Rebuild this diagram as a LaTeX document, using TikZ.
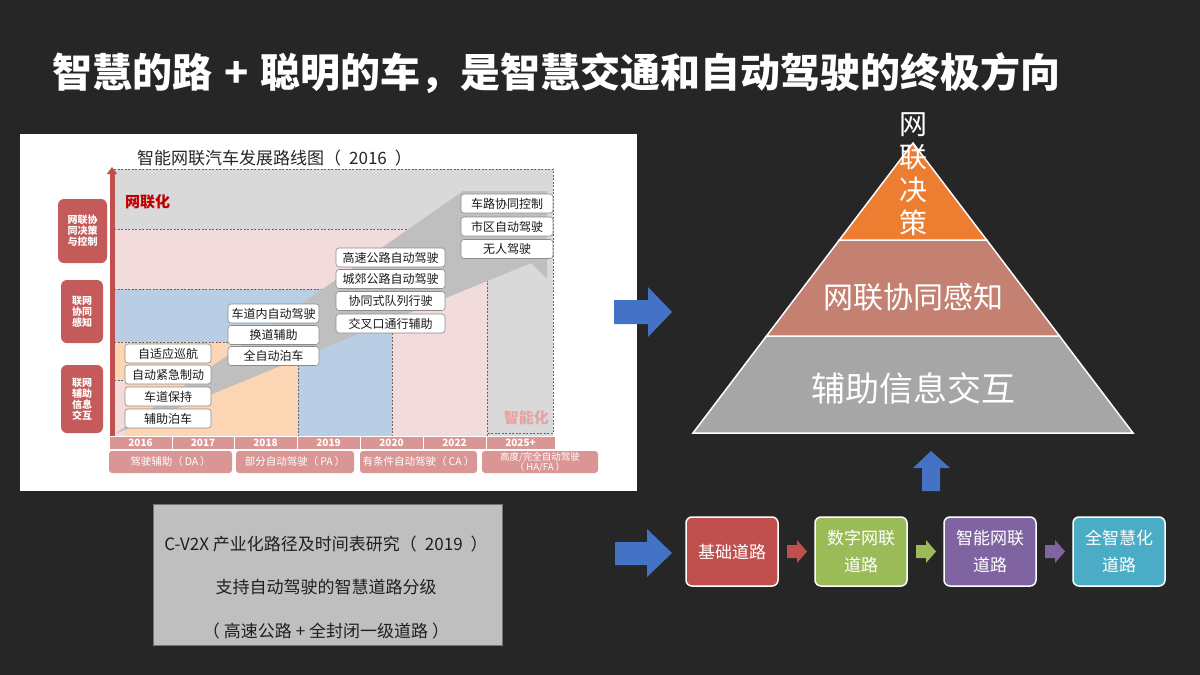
\documentclass[tikz,border=0pt]{standalone}
\usepackage{fontspec}
\setmainfont{Noto Sans CJK SC}
\usetikzlibrary{arrows.meta}
\newcommand\myfs[2]{\fontsize{#1pt}{#2pt}\selectfont}
\definecolor{bg}{HTML}{262626}
\definecolor{rgray}{HTML}{D9D9D9}
\definecolor{rpink}{HTML}{F2DCDB}
\definecolor{rblue}{HTML}{B9CDE5}
\definecolor{rpeach}{HTML}{FCD5B5}
\definecolor{arrgray}{HTML}{BFBFBF}
\definecolor{axred}{HTML}{C0504D}
\definecolor{lblred}{HTML}{C55A5A}
\definecolor{yr}{HTML}{DA9694}
\definecolor{wlred}{HTML}{C00000}
\definecolor{zpink}{HTML}{E6A3A3}
\definecolor{blueA}{HTML}{4472C4}
\definecolor{pyrO}{HTML}{ED7D31}
\definecolor{pyrM}{HTML}{C48070}
\definecolor{pyrG}{HTML}{A6A6A6}
\definecolor{bRed}{HTML}{C0504D}
\definecolor{bGreen}{HTML}{9BBB59}
\definecolor{bPurple}{HTML}{8064A2}
\definecolor{bCyan}{HTML}{4BACC6}
\definecolor{gbox}{HTML}{BFBFBF}
\begin{document}
\begin{tikzpicture}[x=1pt,y=-1pt,
  tbox/.style={draw=black!45, line width=0.6pt, fill=white, rounded corners=3pt, font=\myfs{12}{14}, text=black!90, inner sep=0pt, minimum height=19pt},
  lbl/.style={fill=lblred, rounded corners=6pt, text=white, font=\myfs{10}{11}\bfseries, align=center, inner sep=0pt},
  yearcell/.style={fill=yr, draw=white, line width=0.8pt, minimum height=13pt, inner sep=0pt, text=white, font=\myfs{10}{12}\bfseries},
  stagecell/.style={fill=yr, rounded corners=3pt, minimum height=22pt, inner sep=0pt, text=white, font=\myfs{10.5}{10.5}, align=center},
  dline/.style={draw=black!60, line width=0.6pt, dash pattern=on 2pt off 1.5pt},
  rbox/.style={draw=white, line width=1.5pt, rounded corners=6pt, minimum width=92pt, minimum height=69pt, inner sep=0pt, text=white, font=\myfs{17}{27}, align=center},
  pyr/.style={draw=white, line width=1.5pt}
]
\useasboundingbox (0,0) rectangle (1200,675);
\fill[bg] (0,0) rectangle (1200,675);

% title
\node[anchor=west, inner sep=0pt, text=white, font=\myfs{40}{48}\bfseries] (title) at (52,73) {智慧的路\hspace{12pt}+\hspace{12pt}聪明的车，是智慧交通和自动驾驶的终极方向};

% chart panel
\fill[white] (20,134) rectangle (637,491);
\node[anchor=west, inner sep=0pt, font=\myfs{17}{20}, text=black!85] (ctitle) at (137,158) {智能网联汽车发展路线图（\hspace{8pt}2016\hspace{8pt}）};

% regions
\fill[rgray] (114,169) rectangle (553,436);
\fill[rpink] (114,229) rectangle (487,436);
\fill[rblue] (114,289) rectangle (392,436);
\fill[rpeach] (114,342) rectangle (298,436);
\fill[rpink] (114,380) rectangle (125,436);
\draw[dline] (114,169) -- (553,169) -- (553,433) -- (487,433);
\draw[dline] (114,229) -- (487,229) -- (487,436);
\draw[dline] (114,289) -- (392,289) -- (392,436);
\draw[dline] (114,342) -- (298,342) -- (298,436);
\draw[dline] (114,380) -- (125,380);

% big gray arrow
\fill[arrgray] (115,434) -- (463,191) -- (547,191) -- (547,279) -- (531,263) -- cycle;

% axis
\coordinate (axB) at (112,436);
\coordinate (axT) at (112,167);
\draw[line width=5pt, draw=axred, -{Triangle[width=10pt,length=7pt]}] (axB) -- (axT);

\node[anchor=west, inner sep=0pt, text=wlred, font=\myfs{15}{18}\bfseries] (wlh) at (125,202) {网联化};
\node[anchor=east, inner sep=0pt, text=zpink, font=\myfs{15}{18}\bfseries] (znh) at (549,418) {智能化};

% boxes column 1
\node[tbox, minimum width=86pt] (b11) at (168,353.5) {自适应巡航};
\node[tbox, minimum width=86pt] (b12) at (168,374.5) {自动紧急制动};
\node[tbox, minimum width=86pt] (b13) at (168,396.5) {车道保持};
\node[tbox, minimum width=86pt] (b14) at (168,418.5) {辅助泊车};
% column 2
\node[tbox, minimum width=91pt] (b21) at (273.5,313.5) {车道内自动驾驶};
\node[tbox, minimum width=91pt] (b22) at (273.5,335) {换道辅助};
\node[tbox, minimum width=91pt] (b23) at (273.5,356) {全自动泊车};
% column 3
\node[tbox, minimum width=109pt] (b31) at (390.5,257.5) {高速公路自动驾驶};
\node[tbox, minimum width=109pt] (b32) at (390.5,279) {城郊公路自动驾驶};
\node[tbox, minimum width=109pt] (b33) at (390.5,301) {协同式队列行驶};
\node[tbox, minimum width=109pt] (b34) at (390.5,323.5) {交叉口通行辅助};
% column 4
\node[tbox, minimum width=92pt] (b41) at (507,203.5) {车路协同控制};
\node[tbox, minimum width=92pt] (b42) at (507,226.5) {市区自动驾驶};
\node[tbox, minimum width=92pt] (b43) at (507,249) {无人驾驶};

% left labels
\node[lbl, minimum width=49pt, minimum height=64pt] (l1) at (82.5,231) {网联协\\同决策\\与控制};
\node[lbl, minimum width=42pt, minimum height=63pt] (l2) at (82,311.5) {联网\\协同\\感知};
\node[lbl, minimum width=42pt, minimum height=68pt] (l3) at (82,399) {联网\\辅助\\信息\\交互};

% year row
\node[yearcell, minimum width=63pt] (y1) at (140.5,442.5) {2016};
\node[yearcell, minimum width=62pt] (y2) at (203,442.5) {2017};
\node[yearcell, minimum width=63pt] (y3) at (265.5,442.5) {2018};
\node[yearcell, minimum width=63pt] (y4) at (328.5,442.5) {2019};
\node[yearcell, minimum width=63pt] (y5) at (391.5,442.5) {2020};
\node[yearcell, minimum width=63pt] (y6) at (454.5,442.5) {2022};
\node[yearcell, minimum width=69pt] (y7) at (520.5,442.5) {2025+};

% stage row
\node[stagecell, minimum width=123pt] (s1) at (170.5,462) {驾驶辅助（\hspace{2pt}DA\hspace{2pt}）};
\node[stagecell, minimum width=118pt] (s2) at (295,462) {部分自动驾驶（\hspace{2pt}PA\hspace{2pt}）};
\node[stagecell, minimum width=117pt] (s3) at (418.5,462) {有条件自动驾驶（\hspace{2pt}CA\hspace{2pt}）};
\node[stagecell, minimum width=116pt, font=\myfs{9.5}{10}] (s4) at (540,462) {高度/完全自动驾驶\\（\hspace{2pt}HA/FA\hspace{2pt}）};

% blue arrows
\fill[blueA] (614,300) -- (648,300) -- (648,287) -- (672,312) -- (648,337) -- (648,324) -- (614,324) -- cycle;
\fill[blueA] (615,542) -- (647,542) -- (647,529) -- (672,553) -- (647,577) -- (647,565) -- (615,565) -- cycle;
\fill[blueA] (922,491) -- (922,468) -- (913,468) -- (931,451) -- (950,468) -- (940,468) -- (940,491) -- cycle;

% pyramid
\coordinate (pA) at (913,143);
\coordinate (pL1) at (839.3,240);
\coordinate (pR1) at (986.7,240);
\coordinate (pL2) at (766.5,336);
\coordinate (pR2) at (1059.5,336);
\coordinate (pL3) at (693,433);
\coordinate (pR3) at (1133,433);
\filldraw[pyr, fill=pyrG] (pL2) -- (pR2) -- (pR3) -- (pL3) -- cycle;
\filldraw[pyr, fill=pyrM] (pL1) -- (pR1) -- (pR2) -- (pL2) -- cycle;
\filldraw[pyr, fill=pyrO] (pA) -- (pR1) -- (pL1) -- cycle;
\node[inner sep=0pt, text=white, font=\myfs{28}{33}, align=center] (t1) at (913,174) {网\\联\\决\\策};
\node[inner sep=0pt, text=white, font=\myfs{30}{36}] (t2) at (913,297) {网联协同感知};
\node[inner sep=0pt, text=white, font=\myfs{34}{40}] (t3) at (913,388) {辅助信息交互};

% road boxes
\node[rbox, fill=bRed] (r1) at (732,551.5) {基础道路};
\node[rbox, fill=bGreen] (r2) at (861,551.5) {数字网联\\道路};
\node[rbox, fill=bPurple] (r3) at (990,551.5) {智能网联\\道路};
\node[rbox, fill=bCyan] (r4) at (1119,551.5) {全智慧化\\道路};
\fill[bRed] (787,545) -- (797,545) -- (797,540) -- (807,551.5) -- (797,563) -- (797,558) -- (787,558) -- cycle;
\fill[bGreen] (916,545) -- (926,545) -- (926,540) -- (936,551.5) -- (926,563) -- (926,558) -- (916,558) -- cycle;
\fill[bPurple] (1045,545) -- (1055,545) -- (1055,540) -- (1065,551.5) -- (1055,563) -- (1055,558) -- (1045,558) -- cycle;

% gray box
\node[draw=black!55, line width=0.8pt, fill=gbox, minimum width=349pt, minimum height=141pt, inner sep=0pt] (gb) at (327.5,574.5) {};
\node[inner sep=0pt, text=black!88, font=\myfs{17}{43.5}, align=center] (gbt) at (326,587.5) {C-V2X 产业化路径及时间表研究（\hspace{8pt}2019\hspace{8pt}）\\支持自动驾驶的智慧道路分级\\（\hspace{4pt}高速公路 + 全封闭一级道路\hspace{4pt}）};
\end{tikzpicture}
\end{document}
